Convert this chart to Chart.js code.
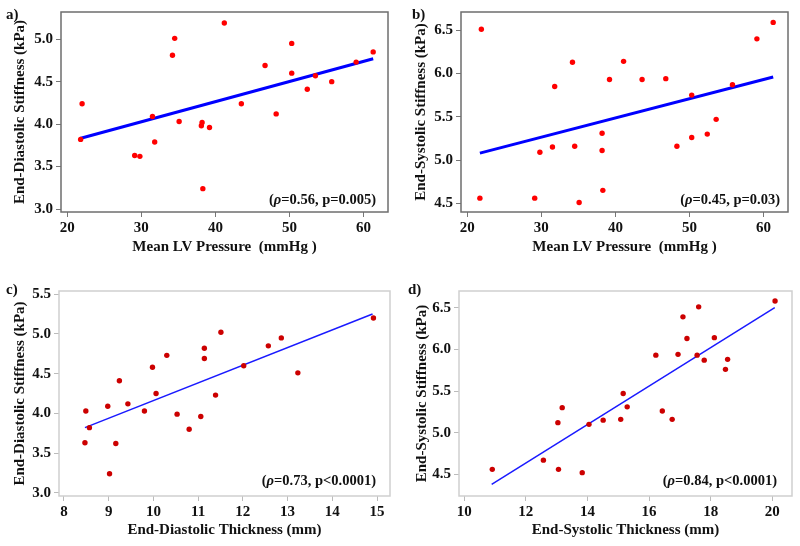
<!DOCTYPE html>
<html>
<head>
<meta charset="utf-8">
<script src="https://cdn.jsdelivr.net/npm/chart.js@4/dist/chart.umd.min.js"></script>
<style>
  body { margin: 0; background: #fff; }
  #wrap { position: relative; width: 800px; height: 546px; }
  .cell { position: absolute; width: 400px; height: 273px; }
</style>
</head>
<body>
<div id="wrap">
  <div class="cell" style="left:0;top:0"><canvas id="pa" width="400" height="273"></canvas></div>
  <div class="cell" style="left:400px;top:0"><canvas id="pb" width="400" height="273"></canvas></div>
  <div class="cell" style="left:0;top:273px"><canvas id="pc" width="400" height="273"></canvas></div>
  <div class="cell" style="left:400px;top:273px"><canvas id="pd" width="400" height="273"></canvas></div>
</div>
<script>
// a) mean LV pressure vs end-diastolic stiffness
var pressureA = [21.8, 22.0, 29.1, 29.8, 31.5, 31.8, 34.2, 34.5, 35.1, 38.2, 38.1, 38.3, 39.2, 41.2, 43.5, 46.7, 48.2, 50.3, 50.3, 52.4, 53.5, 55.7, 59.0, 61.3]
var edStiffA = [3.82, 4.24, 3.63, 3.62, 4.09, 3.79, 4.81, 5.01, 4.03, 4.02, 3.98, 3.24, 3.96, 5.19, 4.24, 4.69, 4.12, 4.95, 4.60, 4.41, 4.57, 4.50, 4.73, 4.85]
var fitXA = [21.7, 61.3]
var fitYA = [3.83, 4.77]

// b) mean LV pressure vs end-systolic stiffness
var pressureB = [21.9, 21.7, 29.1, 29.8, 31.5, 31.8, 34.2, 34.5, 35.1, 38.2, 38.2, 38.3, 39.2, 41.1, 43.6, 46.8, 48.3, 50.3, 50.3, 52.4, 53.6, 55.8, 59.1, 61.3]
var esStiffB = [6.51, 4.56, 4.56, 5.09, 5.15, 5.85, 6.13, 5.16, 4.51, 5.31, 5.11, 4.65, 5.93, 6.14, 5.93, 5.94, 5.16, 5.75, 5.26, 5.30, 5.47, 5.87, 6.40, 6.59]
var fitXB = [21.7, 61.3]
var fitYB = [5.08, 5.96]

// c) end-diastolic thickness vs end-diastolic stiffness
var edThickC = [8.49, 8.57, 8.47, 8.98, 9.16, 9.02, 9.24, 9.43, 9.80, 9.98, 10.06, 10.30, 10.53, 10.80, 11.06, 11.14, 11.14, 11.39, 11.51, 12.02, 12.57, 12.86, 13.23, 14.92]
var edStiffC = [4.03, 3.82, 3.63, 4.09, 3.62, 3.24, 4.41, 4.12, 4.03, 4.58, 4.25, 4.73, 3.99, 3.80, 3.96, 4.82, 4.69, 4.23, 5.02, 4.60, 4.85, 4.95, 4.51, 5.20]
var fitXC = [8.47, 14.9]
var fitYC = [3.82, 5.25]

// d) end-systolic thickness vs end-systolic stiffness
var esThickD = [10.91, 12.57, 13.06, 13.83, 13.04, 13.18, 14.05, 14.51, 15.08, 15.16, 15.29, 16.22, 16.43, 16.75, 16.94, 17.10, 17.23, 17.56, 17.61, 17.79, 18.12, 18.48, 18.55, 20.09]
var esStiffD = [4.56, 4.67, 4.56, 4.52, 5.12, 5.30, 5.10, 5.15, 5.16, 5.47, 5.31, 5.93, 5.26, 5.16, 5.94, 6.39, 6.13, 5.93, 6.51, 5.87, 6.14, 5.76, 5.88, 6.58]
var fitXD = [10.89, 20.08]
var fitYD = [4.38, 6.50]

// tick labels
var pressureTicks = [20, 30, 40, 50, 60]
var edThickTicks = [8, 9, 10, 11, 12, 13, 14, 15]
var esThickTicks = [10, 12, 14, 16, 18, 20]
var edStiffTicks = [3.0, 3.5, 4.0, 4.5, 5.0]
var edStiffTicksC = [3.0, 3.5, 4.0, 4.5, 5.0, 5.5]
var esStiffTicks = [4.5, 5.0, 5.5, 6.0, 6.5]

var serif = "'Liberation Serif', 'Times New Roman', serif"

function pts(xs, ys) {
    return xs.map(function (x, i) { return { x: x, y: ys[i] } })
}

// frame, panel letter and the rho/p annotation
var decor = {
    id: 'decor',
    afterDatasetsDraw: function (chart, args, o) {
        var ctx = chart.ctx, a = chart.chartArea
        ctx.save()
        ctx.strokeStyle = o.frame
        ctx.lineWidth = o.frameWidth
        ctx.strokeRect(a.left, a.top, a.right - a.left, a.bottom - a.top)
        ctx.fillStyle = '#111'
        ctx.textBaseline = 'alphabetic'
        ctx.textAlign = 'left'
        ctx.font = 'bold 15px ' + serif
        ctx.fillText(o.letter, o.lx, o.ly)
        // "(ρ=0.56, p=0.005)" with italic rho
        var f1 = 'bold 14.5px ' + serif, f2 = 'italic bold 14.5px ' + serif
        var parts = [['(', f1], ['\u03C1', f2], [o.stat, f1]]
        var w = 0
        parts.forEach(function (p) { ctx.font = p[1]; w += ctx.measureText(p[0]).width })
        var x = a.right - o.rx - w, y = a.bottom - o.by
        parts.forEach(function (p) { ctx.font = p[1]; ctx.fillText(p[0], x, y); x += ctx.measureText(p[0]).width })
        ctx.restore()
    }
}

function makePanel(id, p) {
    var light = p.light
    var tickFont = { family: serif, size: 15, weight: 'bold' }
    new Chart(document.getElementById(id), {
        type: 'scatter',
        data: {
            datasets: [{
                data: pts(p.xs, p.ys),
                pointRadius: 2.7,
                pointBackgroundColor: light ? '#cc0000' : '#ff0000',
                pointBorderWidth: 0,
                order: 1
            }, {
                type: 'line',
                data: pts(p.fx, p.fy),
                borderColor: light ? '#1a1aff' : '#0000ff',
                borderWidth: light ? 1.5 : 3,
                pointRadius: 0,
                fill: false,
                order: 2
            }]
        },
        options: {
            responsive: false,
            animation: false,
            layout: { padding: { top: p.top, right: p.right, left: 0, bottom: 0 } },
            plugins: {
                legend: { display: false },
                tooltip: { enabled: false },
                decor: p.decor
            },
            scales: {
                x: {
                    type: 'linear',
                    min: p.xmin, max: p.xmax,
                    afterBuildTicks: function (s) { s.ticks = p.xticks.map(function (v) { return { value: v } }) },
                    afterFit: function (s) { s.height = p.xh },
                    ticks: { font: tickFont, color: '#111', padding: 2, maxRotation: 0, autoSkip: false },
                    grid: { drawOnChartArea: false, drawTicks: true, tickLength: 5, color: light ? '#bbb' : '#777' },
                    border: { display: false },
                    title: { display: true, text: p.xtitle, color: '#111', font: { family: serif, size: 15, weight: 'bold' }, padding: { top: 0, bottom: p.xtpad } }
                },
                y: {
                    type: 'linear',
                    min: p.ymin, max: p.ymax,
                    afterBuildTicks: function (s) { s.ticks = p.yticks.map(function (v) { return { value: v } }) },
                    afterFit: function (s) { s.width = p.yw },
                    ticks: { font: tickFont, color: '#111', padding: 3, autoSkip: false, callback: function (v) { return v.toFixed(1) } },
                    grid: { drawOnChartArea: false, drawTicks: true, tickLength: 5, color: light ? '#bbb' : '#777' },
                    border: { display: false },
                    title: { display: true, text: p.ytitle, color: '#111', font: { family: serif, size: 15, weight: 'bold' }, padding: { top: p.ytpad, bottom: 0 } }
                }
            }
        },
        plugins: [decor]
    })
}

makePanel('pa', {
    xs: pressureA, ys: edStiffA, fx: fitXA, fy: fitYA,
    xmin: 19.15, xmax: 63.3, ymin: 2.965, ymax: 5.32,
    xticks: pressureTicks, yticks: edStiffTicks,
    xtitle: 'Mean LV Pressure  (mmHg )', ytitle: 'End-Diastolic Stiffness (kPa)',
    top: 8, right: 12, xh: 61, yw: 61, xtpad: 17, ytpad: 11,
    decor: { frame: '#6e6e6e', frameWidth: 1.5, letter: 'a)', lx: 6, ly: 19, stat: '=0.56, p=0.005)', rx: 12, by: 8 }
})
makePanel('pb', {
    xs: pressureB, ys: esStiffB, fx: fitXB, fy: fitYB,
    xmin: 19.15, xmax: 63.3, ymin: 4.40, ymax: 6.71,
    xticks: pressureTicks, yticks: esStiffTicks,
    xtitle: 'Mean LV Pressure  (mmHg )', ytitle: 'End-Systolic Stiffness (kPa)',
    top: 8, right: 12, xh: 61, yw: 61, xtpad: 17, ytpad: 12,
    decor: { frame: '#6e6e6e', frameWidth: 1.5, letter: 'b)', lx: 12, ly: 19, stat: '=0.45, p=0.03)', rx: 8, by: 8 }
})
makePanel('pc', {
    xs: edThickC, ys: edStiffC, fx: fitXC, fy: fitYC, light: true,
    xmin: 7.89, xmax: 15.29, ymin: 2.96, ymax: 5.54,
    xticks: edThickTicks, yticks: edStiffTicksC,
    xtitle: 'End-Diastolic Thickness (mm)', ytitle: 'End-Diastolic Stiffness (kPa)',
    top: 18, right: 10, xh: 50, yw: 59, xtpad: 7, ytpad: 11,
    decor: { frame: '#cfcfcf', frameWidth: 1.5, letter: 'c)', lx: 6, ly: 21, stat: '=0.73, p<0.0001)', rx: 14, by: 11 }
})
makePanel('pd', {
    xs: esThickD, ys: esStiffD, fx: fitXD, fy: fitYD, light: true,
    xmin: 9.83, xmax: 20.64, ymin: 4.24, ymax: 6.70,
    xticks: esThickTicks, yticks: esStiffTicks,
    xtitle: 'End-Systolic Thickness (mm)', ytitle: 'End-Systolic Stiffness (kPa)',
    top: 18, right: 8, xh: 50, yw: 59, xtpad: 7, ytpad: 13,
    decor: { frame: '#cfcfcf', frameWidth: 1.5, letter: 'd)', lx: 8, ly: 21, stat: '=0.84, p<0.0001)', rx: 15, by: 11 }
})
</script>
</body>
</html>
